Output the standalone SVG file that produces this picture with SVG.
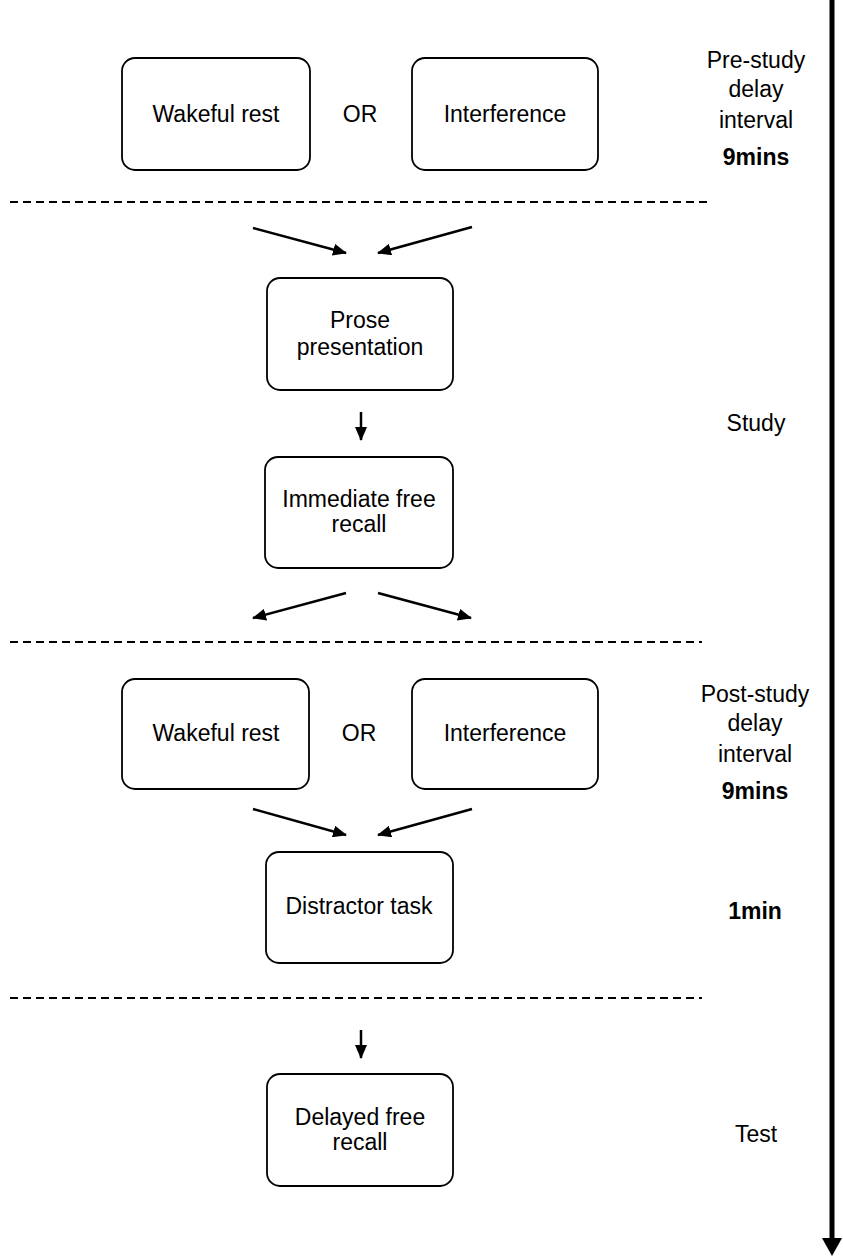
<svg xmlns="http://www.w3.org/2000/svg" width="843" height="1257" viewBox="0 0 843 1257">
<style>
.box{fill:#fff;stroke:#000;stroke-width:1.8}
.t{font-family:"Liberation Sans",Arial,sans-serif;font-size:23px;fill:#000;text-anchor:middle}
.b{font-weight:bold}
.dash{stroke:#000;stroke-width:2;stroke-dasharray:8 5;fill:none}
.arr{stroke:#000;stroke-width:2.5;fill:none;marker-end:url(#ah)}
</style>
<defs>
<marker id="ah" markerUnits="userSpaceOnUse" markerWidth="14" markerHeight="12" refX="13" refY="6" orient="auto">
<path d="M0,0 L14,6 L0,12 Z" fill="#000"/>
</marker>
</defs>
<rect width="843" height="1257" fill="#fff"/>

<g id="separators">
<line class="dash" x1="10" y1="202" x2="710" y2="202"/>
<line class="dash" x1="10" y1="642" x2="702" y2="642"/>
<line class="dash" x1="10" y1="998" x2="702" y2="998"/>
</g>

<g id="timeline">
<line x1="832" y1="0" x2="832" y2="1240" stroke="#000" stroke-width="5"/>
<path d="M822,1238 L842,1238 L832,1256 Z" fill="#000"/>
</g>

<g id="node-wakeful1">
<rect class="box" x="122" y="58" width="188" height="112" rx="13"/>
<text class="t" x="216" y="122">Wakeful rest</text>
</g>
<g id="or1"><text class="t" x="360" y="122">OR</text></g>
<g id="node-interference1">
<rect class="box" x="412" y="58" width="186" height="112" rx="13"/>
<text class="t" x="505" y="122">Interference</text>
</g>

<g id="node-prose">
<rect class="box" x="267" y="278" width="186" height="112" rx="13"/>
<text class="t" x="360" y="328">Prose</text>
<text class="t" x="360" y="355">presentation</text>
</g>

<g id="node-immediate">
<rect class="box" x="265" y="457" width="188" height="111" rx="13"/>
<text class="t" x="359" y="507">Immediate free</text>
<text class="t" x="359" y="532">recall</text>
</g>

<g id="node-wakeful2">
<rect class="box" x="122" y="679" width="187" height="110" rx="13"/>
<text class="t" x="216" y="741">Wakeful rest</text>
</g>
<g id="or2"><text class="t" x="359" y="741">OR</text></g>
<g id="node-interference2">
<rect class="box" x="412" y="679" width="186" height="110" rx="13"/>
<text class="t" x="505" y="741">Interference</text>
</g>

<g id="node-distractor">
<rect class="box" x="266" y="852" width="187" height="111" rx="13"/>
<text class="t" x="359" y="914">Distractor task</text>
</g>

<g id="node-delayed">
<rect class="box" x="267" y="1074" width="186" height="112" rx="13"/>
<text class="t" x="360" y="1125">Delayed free</text>
<text class="t" x="360" y="1150">recall</text>
</g>

<g id="connectors">
<line class="arr" x1="253" y1="228" x2="346" y2="253"/>
<line class="arr" x1="472" y1="227" x2="378" y2="253"/>
<line class="arr" x1="361" y1="412" x2="361" y2="440"/>
<line class="arr" x1="346" y1="593" x2="253" y2="618"/>
<line class="arr" x1="378" y1="593" x2="471" y2="618"/>
<line class="arr" x1="253" y1="809" x2="346" y2="835"/>
<line class="arr" x1="472" y1="809" x2="378" y2="835"/>
<line class="arr" x1="361" y1="1030" x2="361" y2="1058"/>
</g>

<g id="labels">
<text class="t" x="756" y="68">Pre-study</text>
<text class="t" x="756" y="97">delay</text>
<text class="t" x="756" y="128">interval</text>
<text class="t b" x="756" y="165">9mins</text>
<text class="t" x="756" y="431">Study</text>
<text class="t" x="755" y="702">Post-study</text>
<text class="t" x="755" y="731">delay</text>
<text class="t" x="755" y="762">interval</text>
<text class="t b" x="755" y="799">9mins</text>
<text class="t b" x="755" y="919">1min</text>
<text class="t" x="756" y="1142">Test</text>
</g>
</svg>
